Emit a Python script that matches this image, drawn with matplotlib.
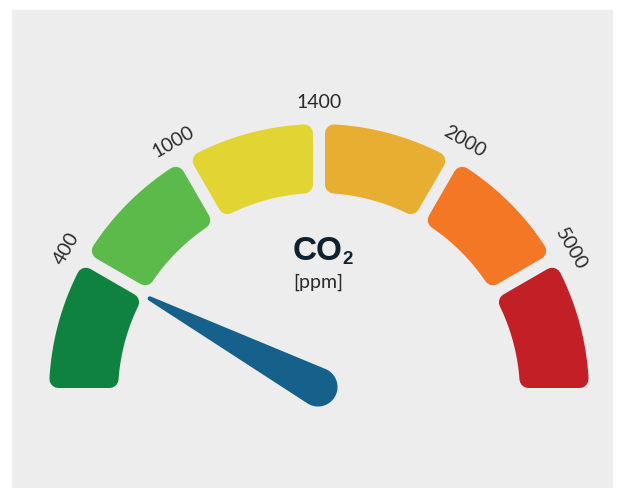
import numpy as np
import matplotlib.pyplot as plt
from matplotlib.patches import Polygon, Rectangle

# gauge bands (left to right) and the ppm marks between them
band_colors = ["#10823f", "#5bba4a", "#e2d433", "#e8ae31", "#f47726", "#c21f26"]
tick_labels = ["400", "1000", "1400", "2000", "5000"]
band_edges = [0, 400, 1000, 1400, 2000, 5000, 10000]
co2_value = 370

W, H = 623, 488
cx, cy = 319, 394
r_in, r_out = 201, 270
gap = 12
corner = 9


def value_to_angle(v):
    # each band takes an equal 30 degree slice of the half circle
    i = np.searchsorted(band_edges, v, side="right") - 1
    i = min(max(i, 0), len(band_edges) - 2)
    frac = (v - band_edges[i]) / (band_edges[i + 1] - band_edges[i])
    return np.radians(180 - 30 * (i + frac))


def band_outline(a1, a2, off):
    """Annular sector between angles a1 > a2, edges pulled in by off."""
    ri, ro = r_in + off, r_out - off
    side = gap / 2 + off
    # angle shift that keeps a constant perpendicular offset from the radial edge
    def arc(r, a_from, a_to, n=60):
        da = np.arcsin(side / r)
        ts = np.linspace(a_from - da, a_to + da, n)
        return [(cx + r * np.cos(t), cy - r * np.sin(t)) for t in ts]
    pts = arc(ro, a1, a2)
    inner = arc(ri, a1, a2)[::-1]
    return pts + inner


fig = plt.figure(figsize=(W / 100, H / 100), dpi=100)
ax = fig.add_axes([0, 0, 1, 1])
ax.set_xlim(0, W)
ax.set_ylim(H, 0)
ax.axis("off")

ax.add_patch(Rectangle((12, 10), 600, 478, color="#ededed", zorder=0))

px_to_pt = 72 / 100
for k, col in enumerate(band_colors):
    a1 = np.radians(180 - 30 * k)
    a2 = np.radians(180 - 30 * (k + 1))
    pts = band_outline(a1, a2, corner)
    ax.add_patch(Polygon(pts, closed=True, facecolor=col, edgecolor=col,
                         linewidth=2 * corner * px_to_pt, joinstyle="round",
                         zorder=2))

# ppm marks on the band gaps, turned along the arc
r_lab = 291
for k, lab in enumerate(tick_labels):
    a = np.radians(150 - 30 * k)
    ax.text(cx + r_lab * np.cos(a), cy - r_lab * np.sin(a), lab,
            rotation=np.degrees(a) - 90, ha="center", va="center",
            fontsize=14, color="#2a2a2a", family="Lato",
            rotation_mode="anchor", zorder=3)

# needle: round hub tapering to a thin tip
hub = (318, 387)
R_hub, w_tip = 19.5, 2.2
length = 190
ang = value_to_angle(co2_value)
u = np.array([np.cos(ang), -np.sin(ang)])
n = np.array([-u[1], u[0]])
tip = np.array(hub) + length * u
th = np.arccos((R_hub - w_tip) / length)
pts = []
for t in np.linspace(th, 2 * np.pi - th, 80):
    d = np.cos(t) * u + np.sin(t) * n
    pts.append(np.array(hub) + R_hub * d)
for t in np.linspace(-th, th, 20):
    d = np.cos(t) * u + np.sin(t) * n
    pts.append(tip + w_tip * d)
ax.add_patch(Polygon(pts, closed=True, facecolor="#16618b",
                     edgecolor="none", zorder=4))

ax.text(342, 251, "CO", ha="right", va="center", fontsize=24,
        fontweight="bold", color="#10222f", family="Liberation Sans")
ax.text(342, 260, "2", ha="left", va="center", fontsize=13.5,
        fontweight="bold", color="#10222f", family="Liberation Sans")
ax.text(318, 282, "[ppm]", ha="center", va="center", fontsize=14,
        color="#2a2a2a", family="Lato")

fig.savefig("out.png", dpi=100, facecolor="white")
